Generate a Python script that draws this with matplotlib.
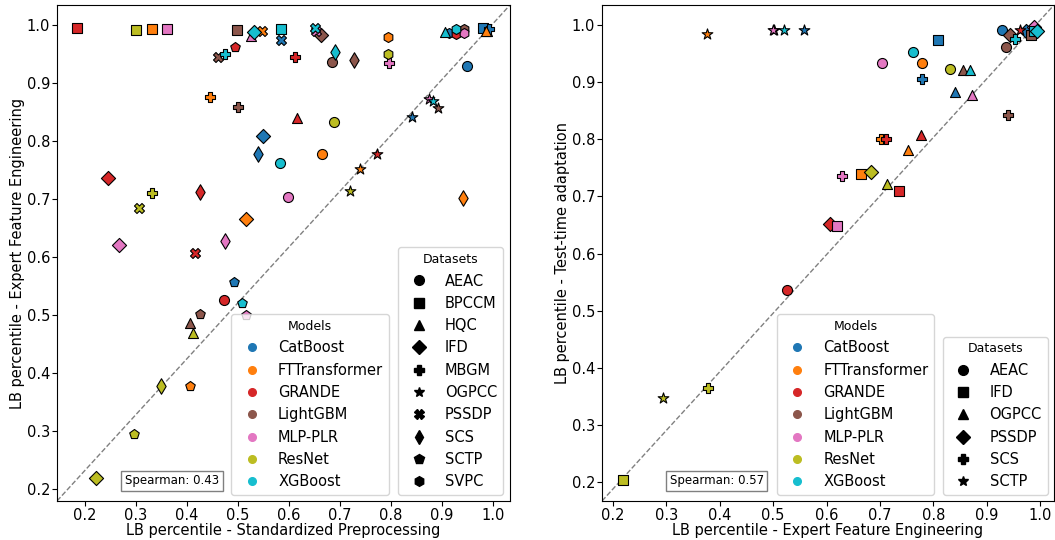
import matplotlib
matplotlib.use("Agg")
import matplotlib.pyplot as plt
from matplotlib.lines import Line2D

models = ["CatBoost", "FTTransformer", "GRANDE", "LightGBM", "MLP-PLR", "ResNet", "XGBoost"]
colors = ["#1f77b4", "#ff7f0e", "#d62728", "#8c564b", "#e377c2", "#bcbd22", "#17becf"]

datasets_left = ["AEAC", "BPCCM", "HQC", "IFD", "MBGM", "OGPCC", "PSSDP", "SCS", "SCTP", "SVPC"]
markers_left = ["o", "s", "^", "D", "P", "*", "X", "d", "p", "h"]

datasets_right = ["AEAC", "IFD", "OGPCC", "PSSDP", "SCS", "SCTP"]
markers_right = ["o", "s", "^", "D", "P", "*"]

# LB percentile - Standardized Preprocessing (rows: models, cols: datasets_left)
std_prep = [
    [0.948, 0.981, 0.988, 0.549, 0.992, 0.841, 0.584, 0.539, 0.492, 0.914],
    [0.665, 0.331, 0.985, 0.515, 0.445, 0.739, 0.546, 0.940, 0.406, 0.794],
    [0.472, 0.184, 0.616, 0.244, 0.612, 0.773, 0.416, 0.425, 0.494, 0.927],
    [0.684, 0.497, 0.406, 0.662, 0.500, 0.892, 0.460, 0.727, 0.425, 0.942],
    [0.597, 0.361, 0.525, 0.267, 0.795, 0.874, 0.653, 0.475, 0.516, 0.943],
    [0.688, 0.299, 0.412, 0.222, 0.332, 0.720, 0.306, 0.349, 0.296, 0.794],
    [0.583, 0.584, 0.906, 0.531, 0.474, 0.883, 0.651, 0.689, 0.508, 0.927],
]

# LB percentile - Expert Feature Engineering (rows: models, cols: datasets_left)
expert_fe = [
    [0.928, 0.995, 0.990, 0.809, 0.993, 0.841, 0.973, 0.778, 0.557, 0.986],
    [0.778, 0.992, 0.990, 0.665, 0.875, 0.752, 0.990, 0.702, 0.377, 0.978],
    [0.526, 0.995, 0.839, 0.736, 0.944, 0.777, 0.606, 0.712, 0.962, 0.984],
    [0.936, 0.991, 0.486, 0.982, 0.859, 0.856, 0.944, 0.940, 0.501, 0.992],
    [0.703, 0.992, 0.981, 0.620, 0.934, 0.872, 0.989, 0.628, 0.500, 0.986],
    [0.832, 0.991, 0.468, 0.218, 0.710, 0.714, 0.684, 0.378, 0.294, 0.949],
    [0.762, 0.992, 0.988, 0.988, 0.949, 0.868, 0.995, 0.953, 0.521, 0.993],
]

# LB percentile - Test-time adaptation (rows: models, cols: datasets_right)
tta = [
    [0.991, 0.973, 0.883, 0.990, 0.905, 0.991],
    [0.933, 0.739, 0.781, 0.990, 0.800, 0.985],
    [0.536, 0.709, 0.808, 0.652, 0.800, 0.991],
    [0.962, 0.983, 0.922, 0.983, 0.843, 0.991],
    [0.933, 0.648, 0.878, 0.996, 0.735, 0.991],
    [0.923, 0.204, 0.721, 0.742, 0.364, 0.348],
    [0.953, 0.990, 0.921, 0.990, 0.975, 0.991],
]

spearman_left = 0.43
spearman_right = 0.57

FS = 10.5
fig = plt.figure(figsize=(10.55, 5.4), dpi=100)
W, H = 1055, 540
axL = fig.add_axes([57 / W, (H - 501) / H, 453 / W, 496 / H])
axR = fig.add_axes([602 / W, (H - 501) / H, 452 / W, 496 / H])

msize = 52
for mi, (m, c) in enumerate(zip(models, colors)):
    for di, (d, mk) in enumerate(zip(datasets_left, markers_left)):
        s = msize * (1.25 if mk == "*" else 1.0) * (1.2 if mk == "d" else 1.0)
        axL.scatter(std_prep[mi][di], expert_fe[mi][di], s=s, marker=mk, color=c,
                    edgecolors="black", linewidths=0.8, zorder=3)
    for di, (d, mk) in enumerate(zip(datasets_right, markers_right)):
        li = datasets_left.index(d)
        s = msize * (1.25 if mk == "*" else 1.0)
        axR.scatter(expert_fe[mi][li], tta[mi][di], s=s, marker=mk, color=c,
                    edgecolors="black", linewidths=0.8, zorder=3)

axL.set_xlim(0.145, 1.033)
axL.set_ylim(0.179, 1.034)
axR.set_xlim(0.1794, 1.026)
axR.set_ylim(0.167, 1.035)

for ax in (axL, axR):
    ax.plot([0, 1], [0, 1], transform=ax.transAxes, ls="--", color="gray", lw=1, zorder=1)
    ax.tick_params(labelsize=FS, pad=1.5)
    ax.set_xticks([0.2, 0.3, 0.4, 0.5, 0.6, 0.7, 0.8, 0.9, 1.0])
    ax.set_yticks([0.2, 0.3, 0.4, 0.5, 0.6, 0.7, 0.8, 0.9, 1.0])

axL.set_xlabel("LB percentile - Standardized Preprocessing", fontsize=FS, labelpad=0)
axL.set_ylabel("LB percentile - Expert Feature Engineering", fontsize=FS, labelpad=1)
axR.set_xlabel("LB percentile - Expert Feature Engineering", fontsize=FS, labelpad=0)
axR.set_ylabel("LB percentile - Test-time adaptation", fontsize=FS, labelpad=1)

bbox = dict(boxstyle="square,pad=0.3", facecolor="white", edgecolor="gray")
axL.text(0.15, 0.028, f"Spearman: {spearman_left:.2f}", transform=axL.transAxes,
         fontsize=8.5, ha="left", va="bottom", bbox=bbox, zorder=5)
axR.text(0.15, 0.028, f"Spearman: {spearman_right:.2f}", transform=axR.transAxes,
         fontsize=8.5, ha="left", va="bottom", bbox=bbox, zorder=5)

model_handles = [Line2D([], [], ls="", marker="o", color=c, markersize=5.5) for c in colors]

def dataset_handles(mks):
    return [Line2D([], [], ls="", marker=mk, color="black",
                   markersize=(7.5 if mk == "*" else 7)) for mk in mks]

for ax, dsets, mks, mx, dx in ((axL, datasets_left, markers_left, 0.733, 0.985),
                               (axR, datasets_right, markers_right, 0.735, 0.986)):
    leg1 = ax.legend(model_handles, models, title="Models", loc="lower right",
                     bbox_to_anchor=(mx, 0.012), fontsize=FS, title_fontsize=9,
                     handletextpad=0.8, borderaxespad=0.0)
    ax.add_artist(leg1)
    leg2 = ax.legend(dataset_handles(mks), dsets, title="Datasets", loc="lower right",
                     bbox_to_anchor=(dx, 0.012), fontsize=FS, title_fontsize=9,
                     handletextpad=0.8, borderaxespad=0.0)

fig.savefig("out.png", dpi=100)
